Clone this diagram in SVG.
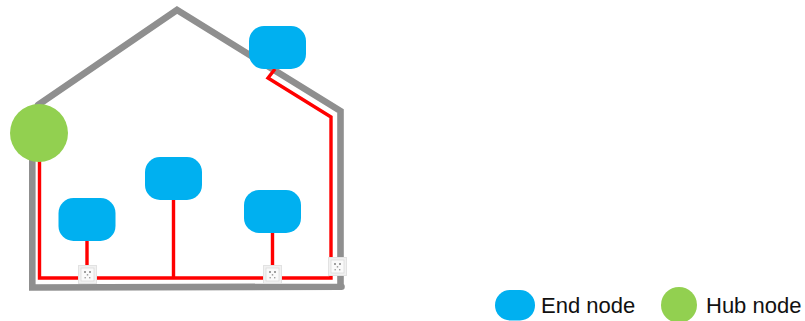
<svg xmlns="http://www.w3.org/2000/svg" width="805" height="321" viewBox="0 0 805 321">
<style>
.wall{fill:none;stroke:#8f8f8f;stroke-width:6.600;stroke-linejoin:miter;stroke-linecap:round}
.wire{fill:none;stroke:#ff0000;stroke-width:3.400;stroke-linejoin:miter}
.end{fill:#00b0f0}
.hub{fill:#92d050}
.plate{fill:#f1f1f1;stroke:#e2e2e2;stroke-width:1}
.face{fill:#fafafa;stroke:#d8d8d8;stroke-width:.7}
.hole{fill:#a0a0a0}
text{font-family:"Liberation Sans",Arial,sans-serif;font-size:22px;fill:#111}
</style>
<defs>
<g id="socket">
<rect class="plate" x="0.5" y="0.5" width="18" height="18"/>
<rect class="face" x="3" y="3" width="13" height="13"/>
<rect class="hole" x="6" y="6" width="2" height="2"/><rect class="hole" x="11" y="6" width="2" height="2"/>
<rect class="hole" x="8.800" y="9" width="1.400" height="1.600"/>
<rect class="hole" x="6.500" y="12" width="1.400" height="1.400"/><rect class="hole" x="11" y="12" width="1.400" height="1.400"/>
</g>
</defs>
<g id="connectors">
<path id="house" class="wall" d="M32.300 160V287.500L341.500 286.700M340.500 286.700V111L177 10L38 105"/>
<path class="wire" d="M39.500 160V278H331V117L268 78L275 69"/>
<path class="wire" d="M87 240V278M173.500 199V278M272.500 232V278"/>
</g>
<use href="#socket" x="78" y="265"/>
<use href="#socket" x="263" y="265"/>
<use href="#socket" x="328" y="257"/>
<g id="hub-node"><circle class="hub" cx="39" cy="133" r="29"/></g>
<g id="end-node-1"><rect class="end" x="58.500" y="198" width="57" height="43" rx="15"/></g>
<g id="end-node-2"><rect class="end" x="145" y="157" width="57" height="43" rx="15"/></g>
<g id="end-node-3"><rect class="end" x="244" y="190" width="57" height="43" rx="15"/></g>
<g id="end-node-4"><rect class="end" x="249" y="26" width="57" height="43" rx="15"/></g>
<g id="legend-end"><rect class="end" x="495" y="290" width="40" height="30.500" rx="15"/><text x="541" y="313">End node</text></g>
<g id="legend-hub"><circle class="hub" cx="679" cy="305" r="18"/><text x="706" y="313">Hub node</text></g>
</svg>
